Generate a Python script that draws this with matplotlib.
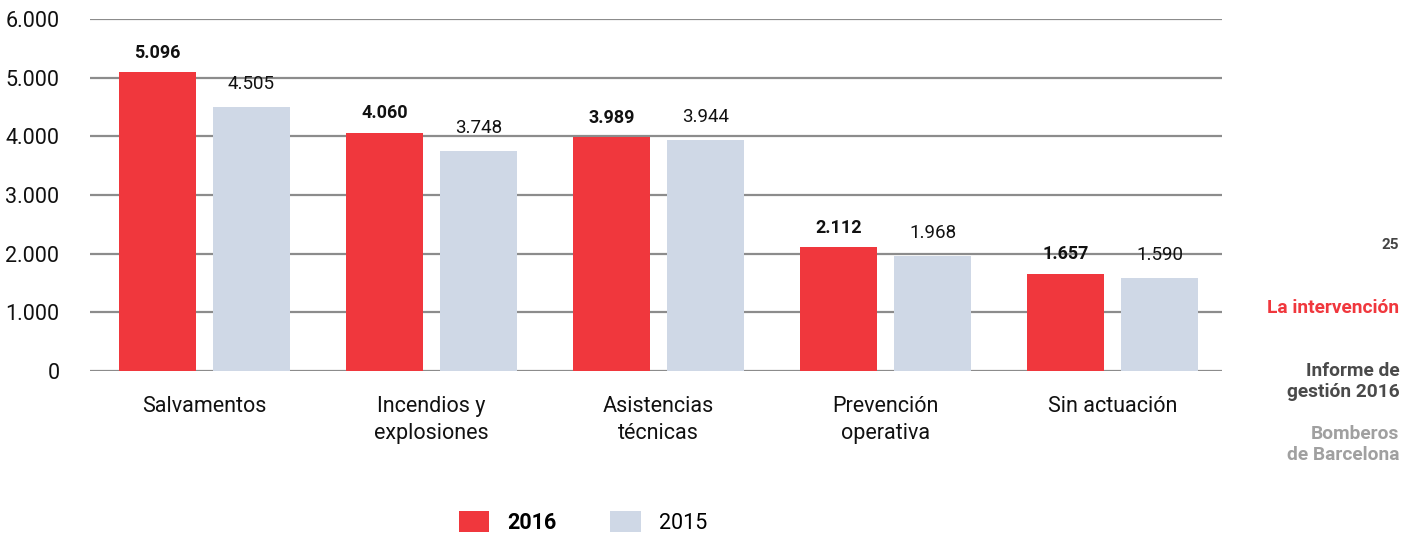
import numpy as np
import matplotlib.pyplot as plt

categorias = ['Salvamentos', 'Incendios y\nexplosiones', 'Asistencias\ntécnicas',
              'Prevención\noperativa', 'Sin actuación']
valores_2016 = [5096, 4060, 3989, 2112, 1657]
valores_2015 = [4505, 3748, 3944, 1968, 1590]
ticks_y = [0, 1000, 2000, 3000, 4000, 5000, 6000]

rojo = '#F0373D'
gris = '#CFD8E6'

plt.rcParams['font.family'] = ['Roboto', 'DejaVu Sans']

def miles(v):
    return f'{v:,}'.replace(',', '.')

fig = plt.figure(figsize=(14.15, 5.34), dpi=100)
ax = fig.add_axes([0.0636, 0.3052, 0.800, 0.6592])

x = np.arange(len(categorias))
w = 0.34
off = 0.207
b1 = ax.bar(x - off, valores_2016, w, color=rojo, zorder=3, label='2016')
b2 = ax.bar(x + off, valores_2015, w, color=gris, zorder=3, label='2015')

for xi, v in zip(x - off, valores_2016):
    ax.annotate(miles(v), (xi, v), xytext=(0, 7.5), textcoords='offset points',
                ha='center', va='bottom', fontsize=13, fontweight='bold', color='#111111')
for xi, v in zip(x + off, valores_2015):
    ax.annotate(miles(v), (xi, v), xytext=(0, 10), textcoords='offset points',
                ha='center', va='bottom', fontsize=13.5, color='#111111')

ax.set_ylim(0, 6000)
ax.set_xlim(-0.504, 4.482)
ax.set_yticks(ticks_y)
ax.set_yticklabels([miles(t) for t in ticks_y], fontsize=15.5, color='#111111')
ax.set_xticks(x)
ax.set_xticklabels(categorias, fontsize=15.5, color='#111111', linespacing=1.35)
ax.tick_params(axis='both', length=0)
ax.tick_params(axis='y', pad=22)
ax.tick_params(axis='x', pad=18)
for lab in ax.get_yticklabels():
    lab.set_horizontalalignment('right')
ax.yaxis.grid(True, color='#8C8C8C', linewidth=1.6, zorder=0)
for s in ax.spines.values():
    s.set_visible(False)

leg = fig.legend(handles=[b1, b2], loc='center', bbox_to_anchor=(0.412, 0.022),
                 ncol=2, frameon=False, fontsize=15.5, handlelength=1.4, handleheight=1.1,
                 columnspacing=2.5, handletextpad=0.85)
leg.get_texts()[0].set_fontweight('bold')

fig.text(0.989, 0.541, '25', ha='right', va='center', fontsize=11, fontweight='bold', color='#444444')
fig.text(0.989, 0.423, 'La intervención', ha='right', va='center', fontsize=13.8, fontweight='bold', color=rojo)
fig.text(0.989, 0.285, 'Informe de\ngestión 2016', ha='right', va='center', fontsize=13.8,
         fontweight='bold', color='#4A4A4A', linespacing=1.2)
fig.text(0.989, 0.168, 'Bomberos\nde Barcelona', ha='right', va='center', fontsize=13.8,
         fontweight='bold', color='#A0A0A0', linespacing=1.2)

fig.savefig('out.png', dpi=100, facecolor='white')
